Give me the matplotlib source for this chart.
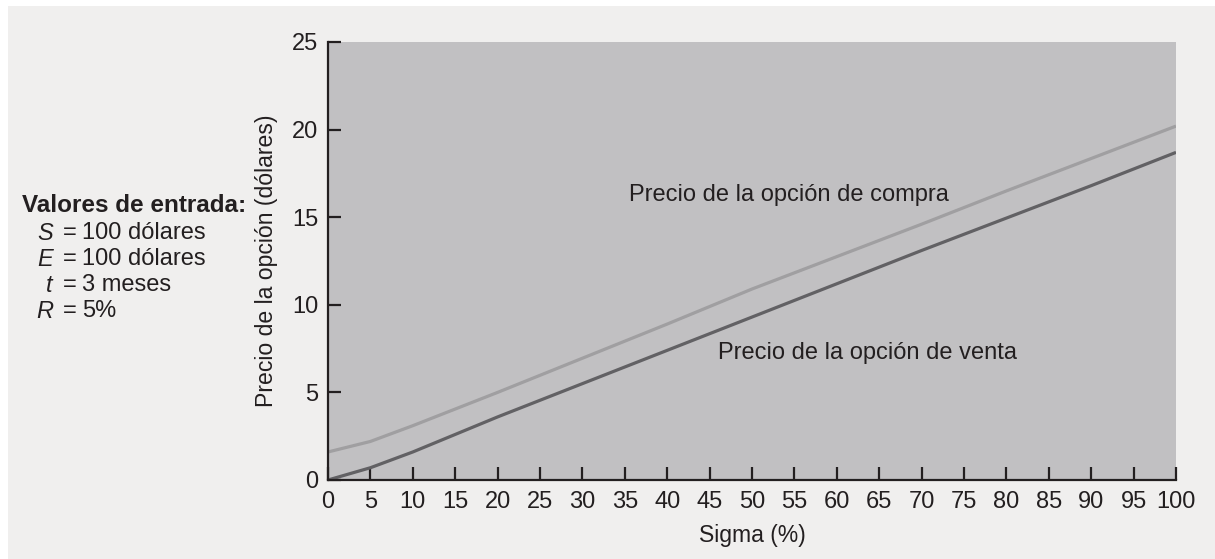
import matplotlib.pyplot as plt
from matplotlib.patches import Rectangle

plt.rcParams['font.family'] = ['Liberation Sans', 'DejaVu Sans']

# datos
sigma = [0, 5, 10, 20, 30, 40, 50, 60, 70, 80, 90, 100]
precio_compra = [1.6, 2.2, 3.1, 5.0, 6.95, 8.9, 10.9, 12.75, 14.6, 16.5, 18.35, 20.2]
precio_venta = [0.0, 0.7, 1.6, 3.6, 5.5, 7.4, 9.3, 11.2, 13.1, 14.95, 16.8, 18.7]

x_ticks = list(range(0, 101, 5))
y_ticks = list(range(0, 26, 5))

param_nombres = ['S', 'E', 't', 'R']
param_valores = ['100 dólares', '100 dólares', '3 meses', '5%']

texto_oscuro = '#231f20'
fs = 17

fig = plt.figure(figsize=(12.15, 5.59), dpi=100, facecolor='white')
# fondo gris claro con borde blanco arriba e izquierda
fig.patches.append(Rectangle((8/1215, 0), 1 - 8/1215, 1 - 6/559, transform=fig.transFigure,
                             facecolor='#f0efee', edgecolor='none', zorder=-1))

ax = fig.add_axes([328/1215, 79/559, 848/1215, 438/559])
ax.set_facecolor('#c1c0c2')

ax.plot(sigma, precio_compra, color='#a09fa1', lw=2.3, solid_capstyle='butt', zorder=3)
ax.plot(sigma, precio_venta, color='#626164', lw=2.3, solid_capstyle='butt', zorder=3)

ax.set_xlim(0, 100)
ax.set_ylim(0, 25)
ax.set_xticks(x_ticks)
ax.set_yticks(y_ticks)

for s in ['top', 'right']:
    ax.spines[s].set_visible(False)
for s in ['left', 'bottom']:
    ax.spines[s].set_color(texto_oscuro)
    ax.spines[s].set_linewidth(1.6)
    ax.spines[s].set_zorder(4)

ax.tick_params(axis='both', direction='in', length=9.5, width=1.6, color=texto_oscuro,
               labelcolor=texto_oscuro, labelsize=fs)
ax.tick_params(axis='x', pad=8)
ax.tick_params(axis='y', pad=7)

ax.set_xlabel('Sigma (%)', fontsize=16.5, color=texto_oscuro, labelpad=8)
ax.set_ylabel('Precio de la opción (dólares)', fontsize=16.6, color=texto_oscuro, labelpad=10)

ax.text(35.5, 16.27, 'Precio de la opción de compra', fontsize=fs, color=texto_oscuro,
        va='center', ha='left')
ax.text(46.0, 7.25, 'Precio de la opción de venta', fontsize=fs, color=texto_oscuro,
        va='center', ha='left')

# valores de entrada a la izquierda
fig.text(22/1215, 1 - 205/559, 'Valores de entrada:', fontsize=17.5, fontweight='bold',
         color=texto_oscuro, va='center', ha='left')
filas_y = [233, 259, 285, 311]
for nombre, valor, yy in zip(param_nombres, param_valores, filas_y):
    fig.text(53/1215, 1 - yy/559, nombre, fontsize=fs, style='italic', color=texto_oscuro,
             va='center', ha='right')
    fig.text(63/1215, 1 - yy/559, '=', fontsize=fs, color=texto_oscuro,
             va='center', ha='left')
    fig.text(82/1215, 1 - yy/559, valor, fontsize=fs, color=texto_oscuro,
             va='center', ha='left')

fig.savefig('out.png', dpi=100, facecolor=fig.get_facecolor())
